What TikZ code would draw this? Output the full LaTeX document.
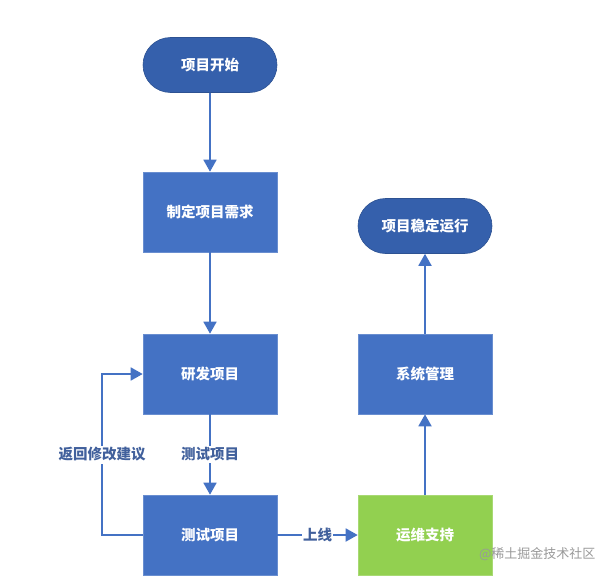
\documentclass[tikz,border=0pt]{standalone}
\usepackage{fontspec}
\setmainfont{Noto Sans CJK SC}
\usetikzlibrary{arrows.meta,shapes.misc}
\definecolor{boxblue}{HTML}{4472C4}
\definecolor{ovalblue}{HTML}{3560AC}
\definecolor{linkblue}{HTML}{4472C4}
\definecolor{labblue}{HTML}{41609C}
\definecolor{boxgreen}{HTML}{92D050}
\tikzset{
  every node/.style={font=\fontsize{14.5}{17}\selectfont\bfseries},
  procbox/.style={rectangle, fill=boxblue, draw=boxblue!80!white, line width=0.6pt, minimum width=134pt, minimum height=80pt, text=white, inner sep=0pt},
  greenbox/.style={procbox, fill=boxgreen, draw=boxgreen!80!white},
  termbox/.style={rounded rectangle, fill=ovalblue, draw=ovalblue!85!black, line width=0.6pt, minimum width=134pt, minimum height=55pt, text=white, inner sep=0pt},
  link/.style={draw=linkblue, line width=1.8pt, -{Triangle[width=13pt,length=12pt]}},
  linklabel/.style={fill=white, text=labblue, inner sep=2pt},
}
\begin{document}
\begin{tikzpicture}[x=1pt,y=-1pt]
\useasboundingbox (0,0) rectangle (615,578);
\node[termbox] (start) at (210,65) {项目开始};
\node[procbox] (req) at (210,212) {制定项目需求};
\node[procbox] (dev) at (210,374) {研发项目};
\node[procbox] (test) at (210,535) {测试项目};
\node[greenbox] (ops) at (425,535) {运维支持};
\node[procbox] (sys) at (425,374) {系统管理};
\node[termbox] (end) at (425,226) {项目稳定运行};
\coordinate (lb) at (102,535);
\coordinate (lt) at (102,374);
\draw[link] (start) -- (req);
\draw[link] (req) -- (dev);
\draw[link] (dev) -- node[linklabel, pos=0.5] {测试项目} (test);
\draw[link] (test.west) -- (lb) -- node[linklabel, pos=0.5] {返回修改建议} (lt) -- (dev.west);
\draw[link] (test) -- node[linklabel, inner sep=1pt] {上线} (ops);
\draw[link] (ops) -- (sys);
\draw[link] (sys) -- (end);
\node[text=black!40, font=\fontsize{13}{15}\selectfont, anchor=east] (wm) at (599,554) {@稀土掘金技术社区};
\end{tikzpicture}
\end{document}
